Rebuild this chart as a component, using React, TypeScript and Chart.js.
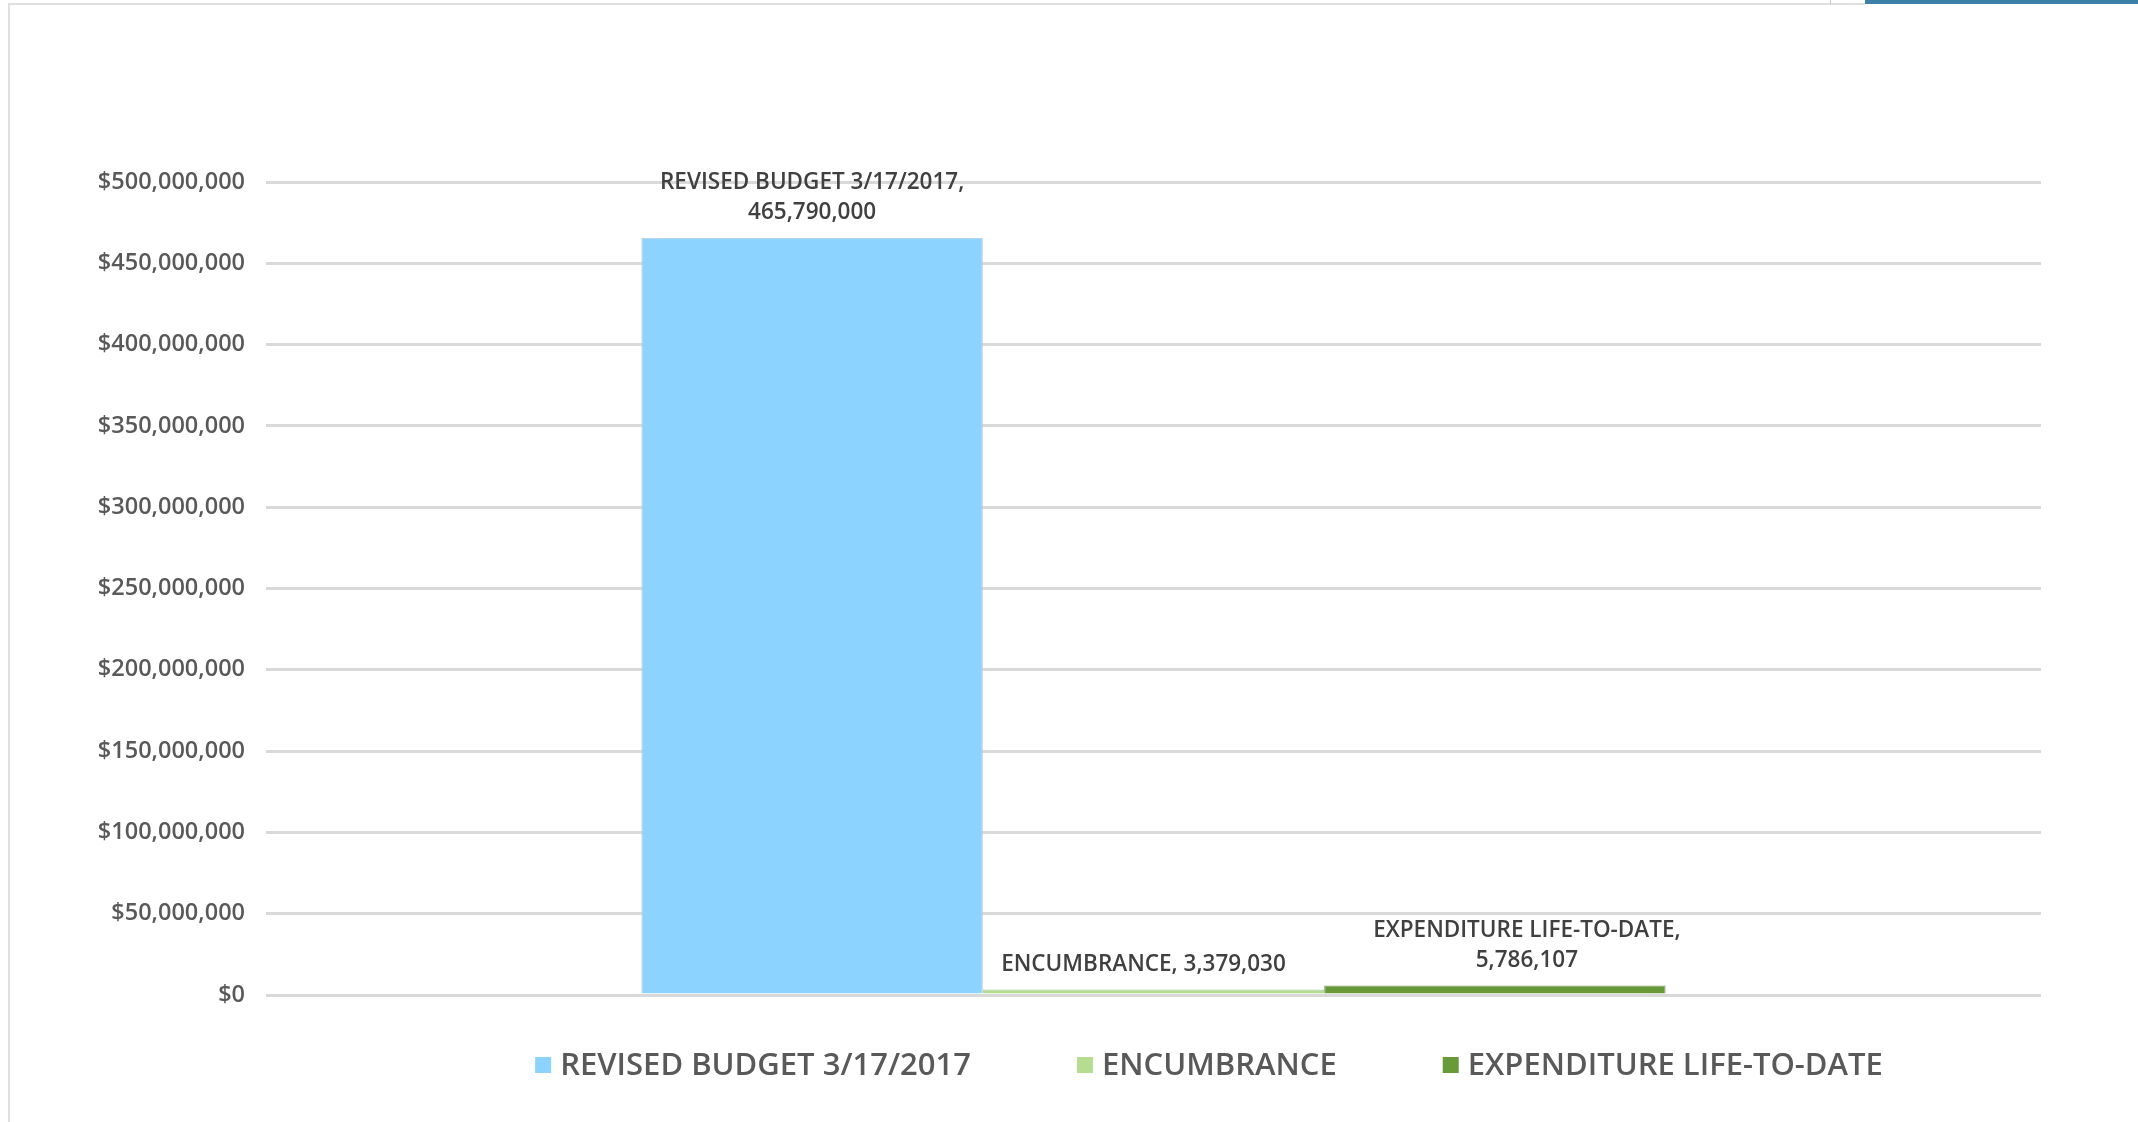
import React, { useEffect, useRef } from 'react';
import { Chart, registerables } from 'chart.js';

Chart.register(...registerables);

// ---- Data ----
const categories = ['Budget'];
const seriesLabels = ['REVISED BUDGET 3/17/2017', 'ENCUMBRANCE', 'EXPENDITURE LIFE-TO-DATE'];
const revisedBudget = [465790000];
const encumbrance = [3379030];
const expenditure = [5786107];
const yMin = 0;
const yMax = 500000000;
const yStep = 50000000;
const seriesColors = ['#8CD3FF', '#B5DC8F', '#689A38'];
const seriesBorders = ['#B9C9D3', '#A9C99A', '#7F9A70'];

const fmt = (v: number) => v.toLocaleString('en-US');

const LABEL_FONT = '600 22.5px "Open Sans"';
const LEGEND_FONT = '600 31px "Open Sans"';
const TICK_FONT = '600 23.5px "Open Sans"';

const valueLabelPlugin = {
  id: 'barValueLabels',
  afterDatasetsDraw(chart: any) {
    const opts = chart.options.plugins.barValueLabels;
    const ctx = chart.ctx;
    ctx.save();
    ctx.font = LABEL_FONT;
    ctx.fillStyle = '#404040';
    ctx.textAlign = 'center';
    ctx.textBaseline = 'middle';
    chart.data.datasets.forEach((ds: any, i: number) => {
      const bar = chart.getDatasetMeta(i).data[0];
      if (!bar) return;
      const v = ds.data[0];
      const lines = opts.wrap[i] ? [ds.label + ',', fmt(v)] : [ds.label + ', ' + fmt(v)];
      const x = bar.x + opts.shift[i];
      lines.forEach((l: string, k: number) => {
        ctx.fillText(l, x, bar.y - 25 - (lines.length - 1 - k) * 30);
      });
    });
    ctx.restore();
  },
};

const legendPlugin = {
  id: 'bottomLegend',
  afterDraw(chart: any) {
    const opts = chart.options.plugins.bottomLegend;
    const ctx = chart.ctx;
    ctx.save();
    ctx.font = LEGEND_FONT;
    ctx.textBaseline = 'middle';
    ctx.textAlign = 'left';
    const ds = chart.data.datasets;
    const widths = ds.map((d: any) => ctx.measureText(d.label).width);
    const box = 16;
    const gapBox = 9;
    const gapItem = 106;
    const total = widths.reduce((a: number, b: number) => a + b, 0) + ds.length * (box + gapBox) + (ds.length - 1) * gapItem;
    let x = opts.centerX - total / 2;
    const y = opts.centerY;
    ds.forEach((d: any, i: number) => {
      ctx.fillStyle = d.backgroundColor;
      ctx.fillRect(x, y - box / 2, box, box);
      x += box + gapBox;
      ctx.fillStyle = '#595959';
      ctx.fillText(d.label, x, y + 1);
      x += widths[i] + gapItem;
    });
    ctx.restore();
  },
};

function ChartView() {
  const ref = useRef<HTMLCanvasElement | null>(null);
  useEffect(() => {
    let chart: any = null;
    let cancelled = false;
    const make = () => {
      if (cancelled || !ref.current) return;
      chart = new Chart(ref.current, {
        type: 'bar',
        data: {
          labels: categories,
          datasets: [
            { label: seriesLabels[0], data: revisedBudget, backgroundColor: seriesColors[0], borderColor: seriesBorders[0], borderWidth: 1 },
            { label: seriesLabels[1], data: encumbrance, backgroundColor: seriesColors[1], borderColor: seriesBorders[1], borderWidth: 1 },
            { label: seriesLabels[2], data: expenditure, backgroundColor: seriesColors[2], borderColor: seriesBorders[2], borderWidth: 1 },
          ],
        },
        options: {
          animation: false,
          responsive: false,
          maintainAspectRatio: false,
          layout: { padding: { top: 182, right: 97, bottom: 127, left: 0 } },
          datasets: { bar: { categoryPercentage: 0.577, barPercentage: 1 } },
          scales: {
            x: { display: false },
            y: {
              min: yMin,
              max: yMax,
              border: { display: false },
              grid: { color: '#D9D9D9', lineWidth: 3, drawTicks: false },
              ticks: {
                stepSize: yStep,
                padding: 21,
                color: '#595959',
                font: { family: '"Open Sans"', size: 23.5, weight: '600' },
                callback: (v: any) => '$' + fmt(Number(v)),
              },
              afterFit: (s: any) => { s.width = 266; },
            },
          },
          plugins: {
            legend: { display: false },
            tooltip: { enabled: false },
            barValueLabels: { wrap: [true, false, true], shift: [0, -10, 32] },
            bottomLegend: { centerX: 1209, centerY: 1065 },
          } as any,
        },
        plugins: [valueLabelPlugin, legendPlugin],
      } as any);
    };
    const fonts: any = (document as any).fonts;
    if (fonts && fonts.load) {
      Promise.all([fonts.load(LABEL_FONT), fonts.load(LEGEND_FONT), fonts.load(TICK_FONT)]).then(make, make);
    } else make();
    return () => {
      cancelled = true;
      if (chart) chart.destroy();
    };
  }, []);
  return <canvas ref={ref} width={2138} height={1122} style={{ display: 'block' }} />;
}

export default function App() {
  useEffect(() => {
    document.body.style.margin = '0';
  }, []);
  return (
    <div style={{ position: 'absolute', left: 0, top: 0, width: 2138, height: 1122, background: '#fff', overflow: 'hidden' }}>
      <div style={{ position: 'absolute', left: 8, top: 3, width: 1822, height: 1122, borderLeft: '2px solid #E0E0E0', borderTop: '2px solid #E0E0E0' }} />
      <div style={{ position: 'absolute', left: 1830, top: 0, width: 1, height: 4, background: '#C8C8C8' }} />
      <div style={{ position: 'absolute', left: 1832, top: 3, width: 33, height: 2, background: '#E0E0E0' }} />
      <div style={{ position: 'absolute', left: 1865, top: 0, width: 273, height: 4, background: '#3E7FA8' }} />
      <div style={{ position: 'absolute', left: 0, top: 0 }}>
        <ChartView />
      </div>
    </div>
  );
}
